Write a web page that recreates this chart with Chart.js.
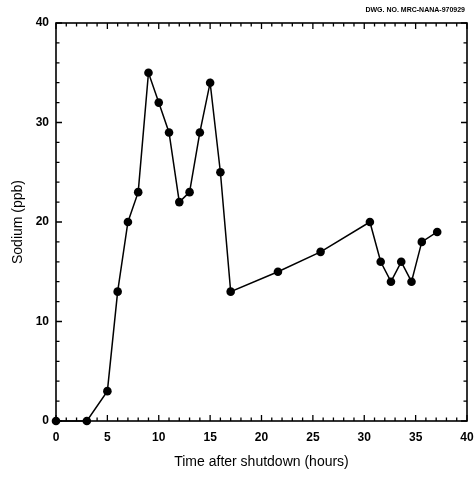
<!DOCTYPE html>
<html>
<head>
<meta charset="utf-8">
<script src="https://cdn.jsdelivr.net/npm/chart.js@4.4.0/dist/chart.umd.min.js"></script>
<style>
  html, body { margin: 0; padding: 0; background: #fff; }
  #wrap { width: 476px; height: 477px; }
</style>
</head>
<body>
<div id="wrap"><canvas id="sodiumChart" width="476" height="477"></canvas></div>
<script>
/* ===== Data ===== */
const hours  = [0, 3, 5, 6, 7, 8, 9, 10, 11, 12, 13, 14, 15, 16, 17, 21.6, 25.75, 30.55, 31.6, 32.6, 33.6, 34.6, 35.6, 37.1];
const sodium = [0, 0, 3, 13, 20, 23, 35, 32, 29, 22, 23, 29, 34, 25, 13, 15, 17, 20, 16, 14, 16, 14, 18, 19];

const xTicks = [0, 5, 10, 15, 20, 25, 30, 35, 40];
const yTicks = [0, 10, 20, 30, 40];

const drawingNo = "DWG. NO. MRC-NANA-970929";
const fontFamily = "'Liberation Sans', Arial, sans-serif";
const tickFamily = "'Liberation Sans Narrow', 'Arial Narrow', 'Liberation Sans', Arial, sans-serif";

// frame + inward ticks on all four sides
const framePlugin = {
  id: "frame",
  afterDatasetsDraw(chart) {
    const ctx = chart.ctx;
    const a = chart.chartArea;
    const xs = chart.scales.x;
    const ys = chart.scales.y;
    ctx.save();
    ctx.strokeStyle = "#000";
    ctx.lineWidth = 1.6;
    ctx.strokeRect(a.left, a.top, a.right - a.left, a.bottom - a.top);

    ctx.lineWidth = 1.3;
    ctx.beginPath();
    for (let v = 0; v <= 40; v += 1) {
      const px = xs.getPixelForValue(v);
      const len = v % 5 === 0 ? 6 : 3.5;
      ctx.moveTo(px, a.bottom); ctx.lineTo(px, a.bottom - len);
      ctx.moveTo(px, a.top);    ctx.lineTo(px, a.top + len);
    }
    for (let v = 0; v <= 40; v += 2) {
      const py = ys.getPixelForValue(v);
      const len = v % 10 === 0 ? 6 : 3.5;
      ctx.moveTo(a.left, py);  ctx.lineTo(a.left + len, py);
      ctx.moveTo(a.right, py); ctx.lineTo(a.right - len, py);
    }
    ctx.stroke();

    ctx.fillStyle = "#000";
    ctx.font = "bold 7px " + tickFamily;
    ctx.textAlign = "right";
    ctx.textBaseline = "middle";
    ctx.fillText(drawingNo, 465, 10);
    ctx.restore();
  }
};

const ctx = document.getElementById("sodiumChart").getContext("2d");
new Chart(ctx, {
  type: "scatter",
  data: {
    datasets: [{
      label: "Sodium",
      data: hours.map((h, i) => ({ x: h, y: sodium[i] })),
      showLine: true,
      borderColor: "#000",
      borderWidth: 1.5,
      backgroundColor: "#000",
      pointRadius: 4.3,
      pointHoverRadius: 4.3,
      pointBorderWidth: 0,
      clip: false
    }]
  },
  options: {
    responsive: false,
    animation: false,
    events: [],
    layout: { padding: { top: 23, right: 9, left: 0, bottom: 0 } },
    plugins: {
      legend: { display: false },
      tooltip: { enabled: false }
    },
    scales: {
      x: {
        type: "linear",
        min: 0,
        max: 40,
        afterBuildTicks: s => { s.ticks = xTicks.map(v => ({ value: v })); },
        afterFit: s => { s.height = 56; s.paddingLeft = 0; s.paddingRight = 0; },
        grid: { display: false, drawTicks: false },
        border: { display: false },
        ticks: { color: "#000", padding: 9, maxRotation: 0, font: { family: tickFamily, size: 12, weight: "bold" } },
        title: {
          display: true,
          text: "Time after shutdown (hours)",
          color: "#000",
          padding: { top: 0, bottom: 6.6 },
          font: { family: fontFamily, size: 14 }
        }
      },
      y: {
        type: "linear",
        min: 0,
        max: 40,
        afterBuildTicks: s => { s.ticks = yTicks.map(v => ({ value: v })); },
        afterFit: s => { s.width = 56; s.paddingTop = 0; s.paddingBottom = 0; },
        grid: { display: false, drawTicks: false },
        border: { display: false },
        ticks: { color: "#000", padding: 7, font: { family: tickFamily, size: 12, weight: "bold" } },
        title: {
          display: true,
          text: "Sodium (ppb)",
          color: "#000",
          padding: { top: 9.6, bottom: 0 },
          font: { family: fontFamily, size: 14 }
        }
      }
    }
  },
  plugins: [framePlugin]
});
</script>
</body>
</html>
